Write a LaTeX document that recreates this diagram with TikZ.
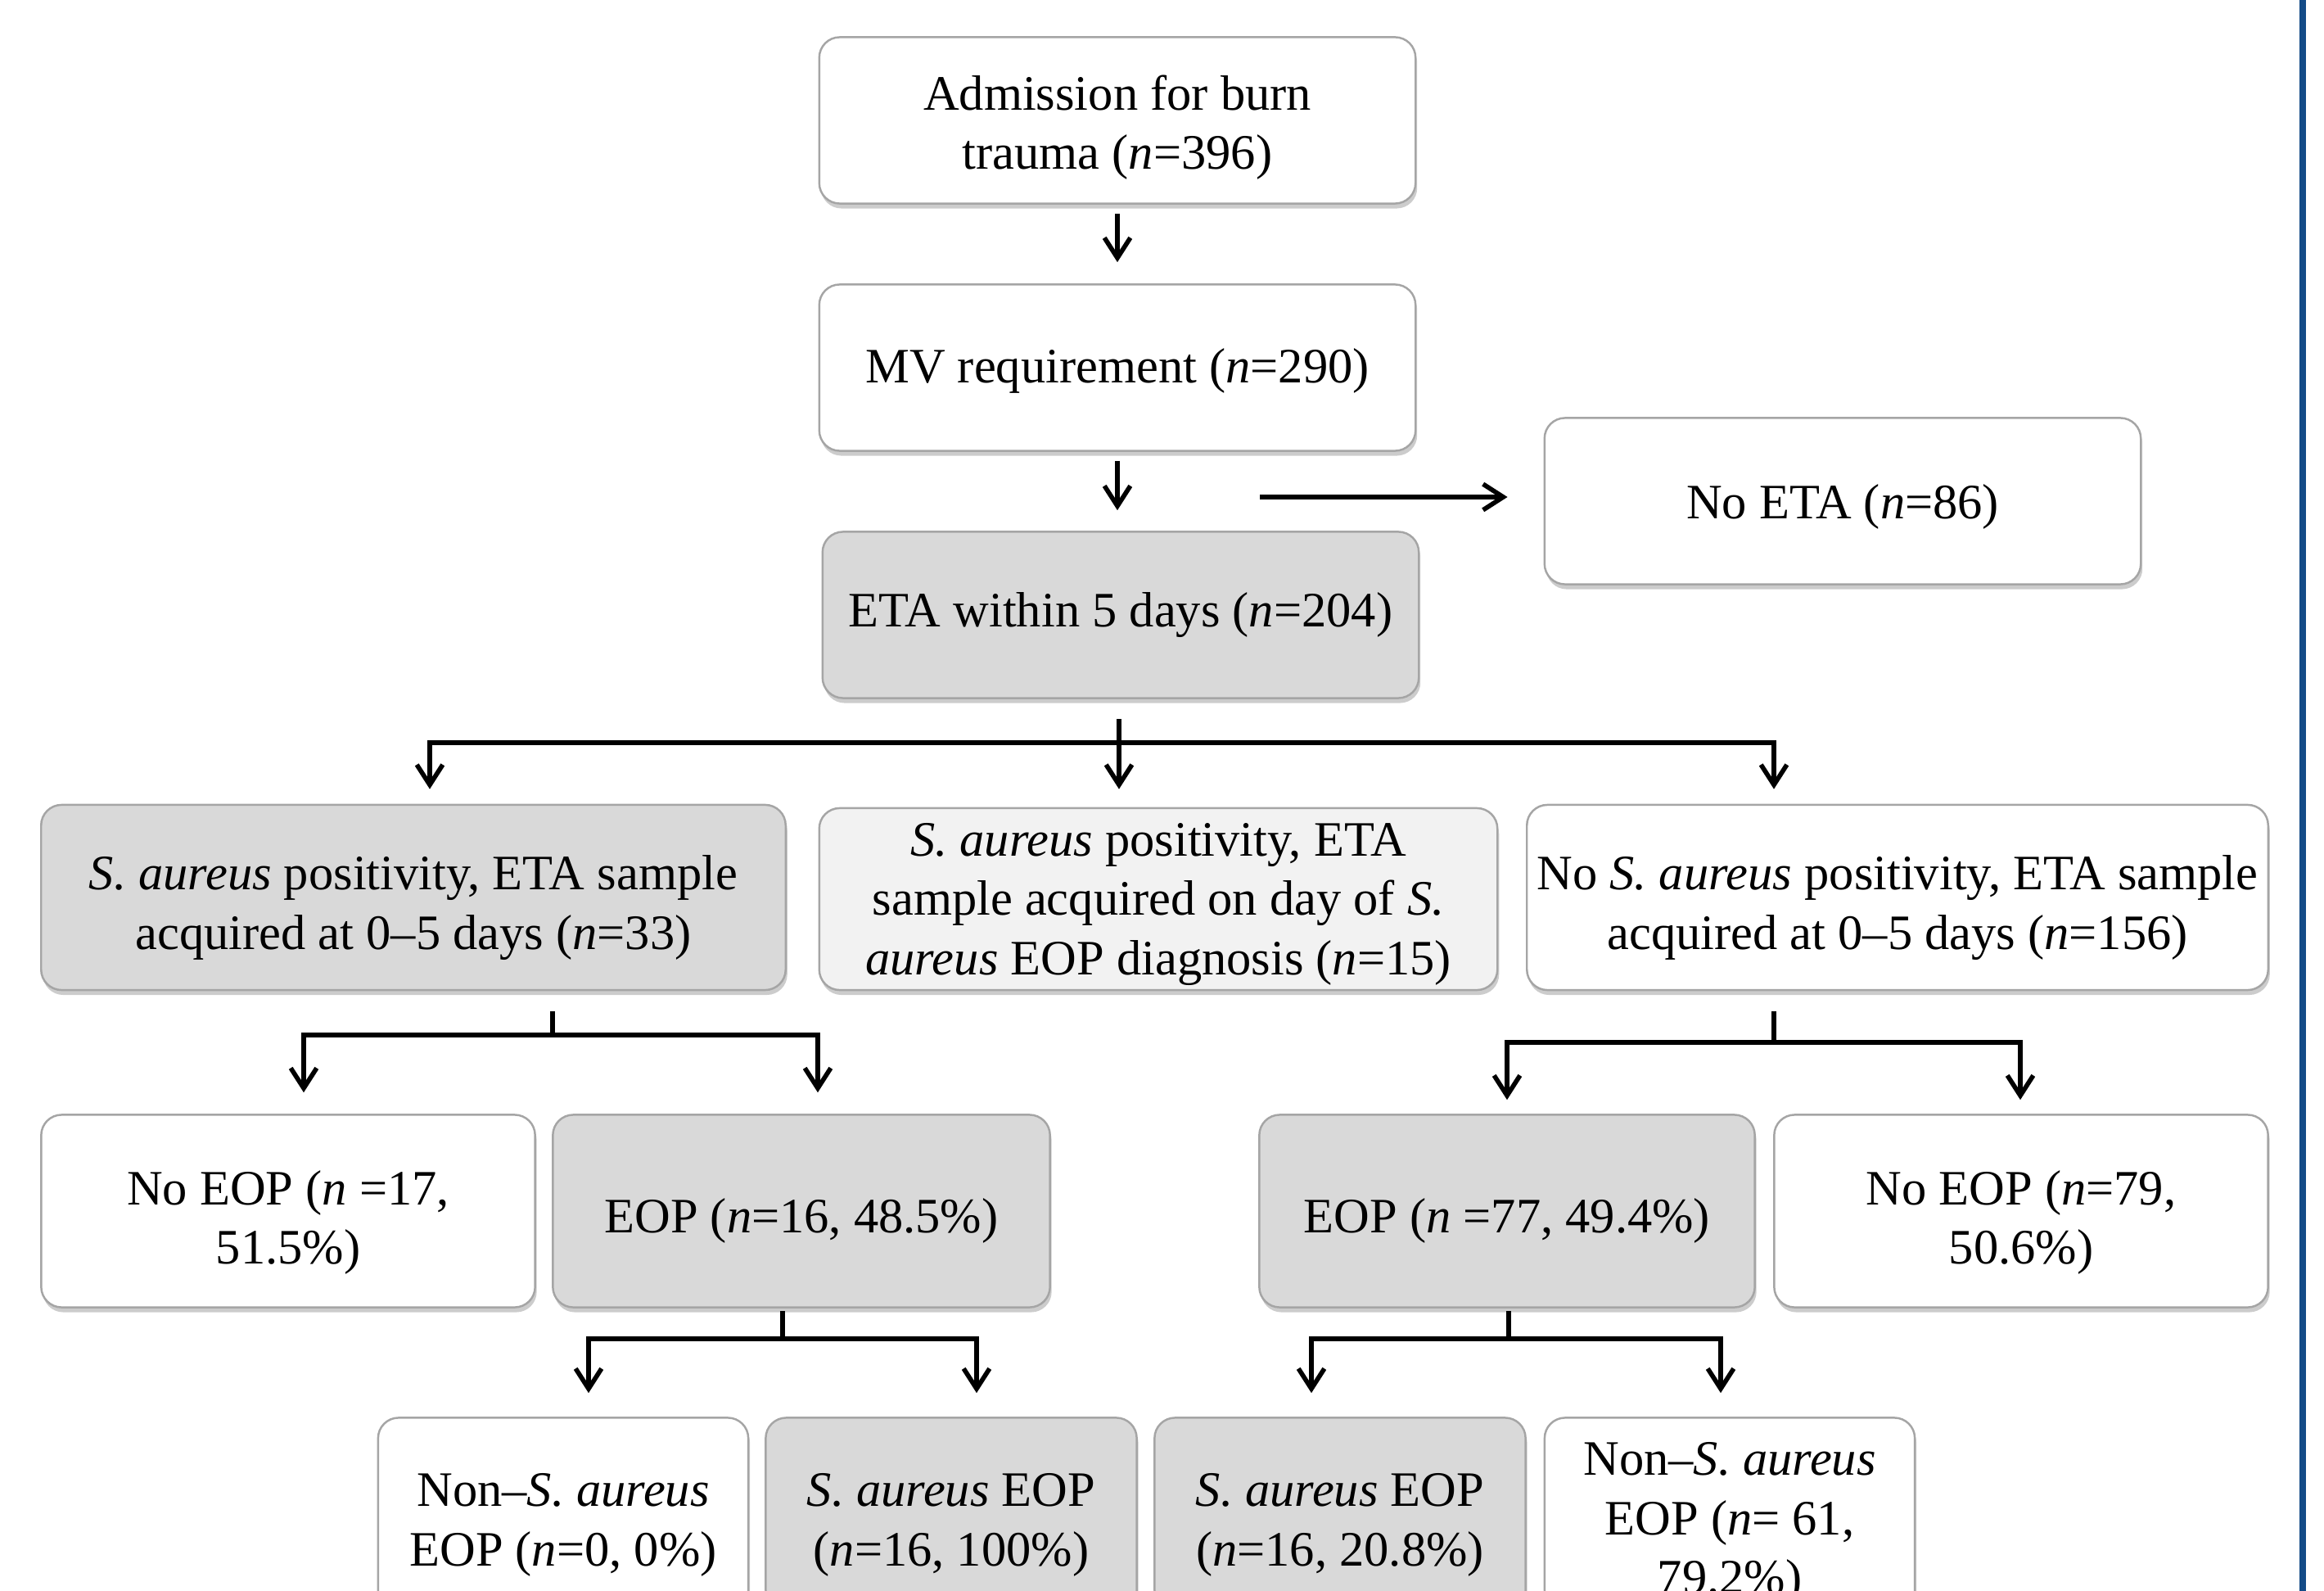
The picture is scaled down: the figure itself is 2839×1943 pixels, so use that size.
\documentclass[tikz,border=0pt]{standalone}
\usepackage{fontspec}
\setmainfont{Liberation Serif}
\usetikzlibrary{arrows.meta,shadows}
\definecolor{boxgray}{RGB}{217,217,217}
\definecolor{boxlight}{RGB}{242,242,242}
\definecolor{edgegray}{RGB}{165,165,165}
\definecolor{barblue}{RGB}{20,75,135}
\newcommand\upst[1]{\rule{0pt}{#1}}
\begin{document}
\begin{tikzpicture}[x=0.01cm,y=-0.01cm,
  font=\fontsize{17.2pt}{20.6pt}\selectfont,
  base/.style={rounded corners=0.25cm, draw=edgegray, line width=0.7pt, align=center, inner sep=0pt,
    drop shadow={shadow xshift=0.02cm, shadow yshift=-0.06cm, opacity=0.2, fill=black}},
  wbox/.style={base, fill=white},
  gbox/.style={base, fill=boxgray},
  lbox/.style={base, fill=boxlight},
  tdown/.style={execute at begin node={\rule{0pt}{#1}}},
  ln/.style={line width=1.6pt, line join=miter},
  arr/.style={ln, -{Straight Barb[length=7pt,width=9pt]}}]
\useasboundingbox (0,0) rectangle (2839,1943);
\fill[white] (0,0) rectangle (2839,1943);
\clip (0,0) rectangle (2839,1943);
\fill[barblue] (2809,0) rectangle (2817,1943);

% row 0-1
\node[wbox, minimum width=7.28cm, minimum height=2.03cm] (adm) at (1365,147) {\upst{17pt}Admission for burn\\trauma (\textit{n}=396)};
\node[wbox, tdown=14pt, minimum width=7.28cm, minimum height=2.03cm] (mv) at (1365,449) {MV requirement (\textit{n}=290)};
\node[wbox, tdown=16pt, minimum width=7.28cm, minimum height=2.03cm] (noeta) at (2251,612) {No ETA (\textit{n}=86)};
\node[gbox, tdown=12pt, minimum width=7.28cm, minimum height=2.03cm] (eta) at (1369,751) {ETA within 5 days (\textit{n}=204)};

% row 2
\node[gbox, minimum width=9.09cm, minimum height=2.26cm] (sa) at (505,1096) {\upst{19pt}\textit{S. aureus} positivity, ETA sample\\acquired at 0--5 days (\textit{n}=33)};
\node[lbox, minimum width=8.28cm, minimum height=2.22cm] (sad) at (1415,1098) {\upst{15pt}\textit{S. aureus} positivity, ETA\\sample acquired on day of \textit{S.}\\\textit{aureus} EOP diagnosis (\textit{n}=15)};
\node[wbox, minimum width=9.05cm, minimum height=2.26cm] (nosa) at (2318,1096) {\upst{19pt}No \textit{S. aureus} positivity, ETA sample\\acquired at 0--5 days (\textit{n}=156)};

% row 3
\node[wbox, minimum width=6.03cm, minimum height=2.35cm] (noeopA) at (352,1479) {\upst{20pt}No EOP (\textit{n} =17,\\51.5\%)};
\node[gbox, tdown=19pt, minimum width=6.07cm, minimum height=2.35cm] (eopA) at (979,1479) {EOP (\textit{n}=16, 48.5\%)};
\node[gbox, tdown=19pt, minimum width=6.05cm, minimum height=2.35cm] (eopB) at (1841,1479) {EOP (\textit{n} =77, 49.4\%)};
\node[wbox, minimum width=6.03cm, minimum height=2.35cm] (noeopB) at (2469,1479) {\upst{20pt}No EOP (\textit{n}=79,\\50.6\%)};

% row 4
\node[wbox, minimum width=4.52cm, minimum height=2.35cm] (nsaA) at (688,1849) {\upst{19pt}Non--\textit{S. aureus}\\EOP (\textit{n}=0, 0\%)};
\node[gbox, minimum width=4.53cm, minimum height=2.35cm] (saA) at (1162,1849) {\upst{19pt}\textit{S. aureus} EOP\\(\textit{n}=16, 100\%)};
\node[gbox, minimum width=4.53cm, minimum height=2.35cm] (saB) at (1637,1849) {\upst{19pt}\textit{S. aureus} EOP\\(\textit{n}=16, 20.8\%)};
\node[wbox, minimum width=4.52cm, minimum height=2.35cm] (nsaB) at (2113,1849) {\upst{18pt}Non--\textit{S. aureus}\\EOP (\textit{n}= 61,\\79.2\%)};

% connectors top
\draw[arr, shorten <=0.11cm, shorten >=0.26cm] (adm) -- (mv);
\draw[arr, shorten <=0.11cm, shorten >=0.25cm] (mv.south) -- (mv.south |- eta.north);
\coordinate (hs) at (1539,607);
\draw[arr, shorten >=0.44cm] (hs) -- (hs -| noeta.west);

% ETA branch
\coordinate (e1) at (1367,878);
\coordinate (ej) at (1367,907);
\coordinate (ejL) at (525,907);
\coordinate (ejR) at (2167,907);
\draw[arr, shorten >=0.22cm] (e1) -- (e1 |- sad.north);
\draw[arr, shorten >=0.18cm] (ej) -- (ejL) -- (ejL |- sa.north);
\draw[arr, shorten >=0.18cm] (ej) -- (ejR) -- (ejR |- nosa.north);

% left tree
\coordinate (l1) at (675,1235);
\coordinate (lj) at (675,1264);
\coordinate (ljL) at (371,1264);
\coordinate (ljR) at (999,1264);
\draw[ln] (l1) -- (lj);
\draw[arr, shorten >=0.26cm] (lj) -- (ljL) -- (ljL |- noeopA.north);
\draw[arr, shorten >=0.26cm] (lj) -- (ljR) -- (ljR |- eopA.north);

% right tree
\coordinate (r1) at (2167,1235);
\coordinate (rj) at (2167,1273);
\coordinate (rjL) at (1841,1273);
\coordinate (rjR) at (2468,1273);
\draw[ln] (r1) -- (rj);
\draw[arr, shorten >=0.17cm] (rj) -- (rjL) -- (rjL |- eopB.north);
\draw[arr, shorten >=0.17cm] (rj) -- (rjR) -- (rjR |- noeopB.north);

% bottom left tree
\coordinate (bl1) at (956,1601);
\coordinate (blj) at (956,1635);
\coordinate (bljL) at (719,1635);
\coordinate (bljR) at (1193,1635);
\draw[ln] (bl1) -- (blj);
\draw[arr, shorten >=0.29cm] (blj) -- (bljL) -- (bljL |- nsaA.north);
\draw[arr, shorten >=0.29cm] (blj) -- (bljR) -- (bljR |- saA.north);

% bottom right tree
\coordinate (br1) at (1843,1601);
\coordinate (brj) at (1843,1635);
\coordinate (brjL) at (1602,1635);
\coordinate (brjR) at (2102,1635);
\draw[ln] (br1) -- (brj);
\draw[arr, shorten >=0.29cm] (brj) -- (brjL) -- (brjL |- saB.north);
\draw[arr, shorten >=0.29cm] (brj) -- (brjR) -- (brjR |- nsaB.north);
\end{tikzpicture}
\end{document}
